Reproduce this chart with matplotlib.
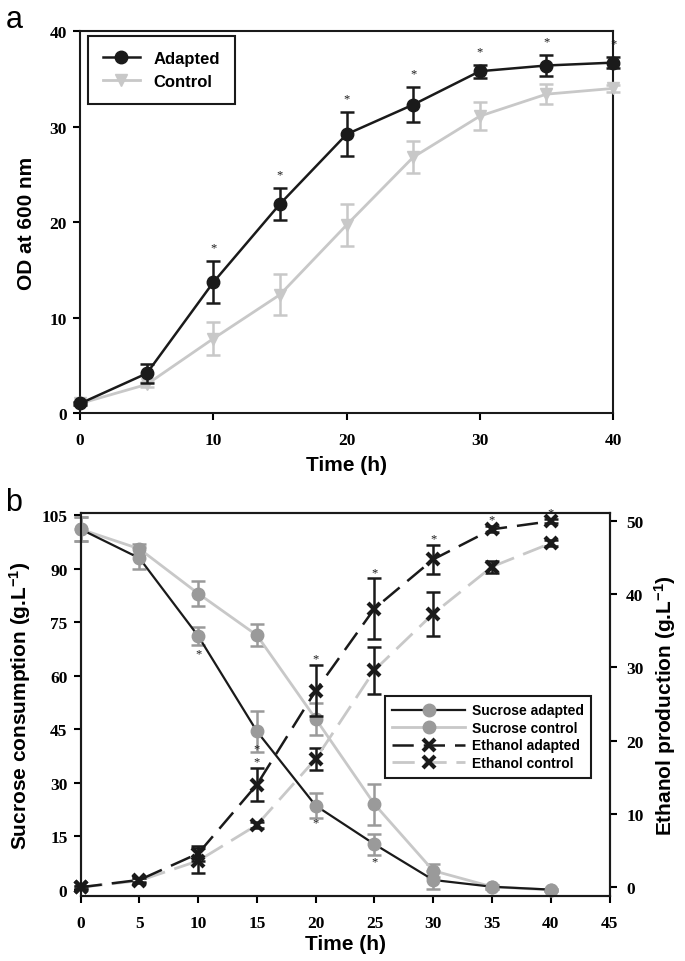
import numpy as np
import matplotlib
matplotlib.use("Agg")
import matplotlib.pyplot as plt

plt.rcParams["mathtext.fontset"] = "custom"
plt.rcParams["mathtext.rm"] = "Liberation Sans:bold"
plt.rcParams["mathtext.default"] = "rm"

# ---- panel a: growth (OD 600 nm) ----
time_a = [0, 5, 10, 15, 20, 25, 30, 35, 40]
od_adapted = [1.0, 4.15, 13.7, 21.9, 29.2, 32.3, 35.8, 36.4, 36.7]
od_adapted_err = [0.2, 1.0, 2.2, 1.7, 2.3, 1.85, 0.7, 1.1, 0.6]
od_control = [1.0, 3.0, 7.8, 12.4, 19.7, 26.8, 31.1, 33.4, 34.0]
od_control_err = [0.2, 0.3, 1.75, 2.15, 2.2, 1.7, 1.5, 1.05, 0.4]
od_star_times = [10, 15, 20, 25, 30, 35, 40]

# ---- panel b: sucrose consumption / ethanol production ----
time_b = [0, 5, 10, 15, 20, 25, 30, 35, 40]
suc_adapted = [101.0, 92.9, 71.1, 44.4, 23.6, 12.8, 2.8, 0.9, 0.1]
suc_adapted_err = [3.4, 3.0, 2.5, 5.7, 3.5, 3.0, 2.6, 0.5, 0.3]
suc_control = [101.0, 95.5, 83.0, 71.3, 47.9, 24.0, 5.4, 0.9, 0.0]
suc_control_err = [3.4, 1.5, 3.4, 3.1, 4.5, 5.7, 1.8, 0.5, 0.3]
eth_adapted = [0.0, 1.0, 4.6, 14.0, 26.8, 38.0, 44.7, 48.8, 49.9]
eth_adapted_err = [0.2, 0.3, 1.0, 2.2, 3.5, 4.1, 2.0, 0.4, 0.3]
eth_control = [0.0, 0.9, 3.6, 8.5, 17.5, 29.6, 37.3, 43.7, 46.9]
eth_control_err = [0.2, 0.3, 1.7, 0.4, 1.5, 3.2, 3.0, 0.8, 0.4]
suc_star_times = [10, 15, 20, 25]
eth_star_times = [15, 20, 25, 30, 35, 40]

BLACK = "#1a1a1a"
LIGHT = "#c8c8c8"
MID = "#9a9a9a"
tick_font = {"family": "Liberation Serif", "weight": "bold", "size": 12.5}
label_font = {"family": "Liberation Sans", "weight": "bold", "size": 15}

fig = plt.figure(figsize=(6.85, 9.62), dpi=100)


def style_ticks(ax):
    for lab in ax.get_xticklabels() + ax.get_yticklabels():
        lab.set_fontfamily(tick_font["family"])
        lab.set_fontweight(tick_font["weight"])
        lab.set_fontsize(tick_font["size"])
    for sp in ax.spines.values():
        sp.set_linewidth(1.5)
        sp.set_color(BLACK)


# panel a
ax = fig.add_axes([0.117, 0.5696, 0.778, 0.397])
ax.errorbar(time_a, od_control, yerr=od_control_err, fmt="none", ecolor=LIGHT,
            elinewidth=1.8, capsize=5, capthick=1.8, zorder=2, clip_on=False)
ax.plot(time_a, od_control, color=LIGHT, lw=2, marker="v", ms=9,
        label="Control", zorder=3, clip_on=False)
ax.errorbar(time_a, od_adapted, yerr=od_adapted_err, fmt="none", ecolor=BLACK,
            elinewidth=1.8, capsize=5, capthick=1.8, zorder=4, clip_on=False)
ax.plot(time_a, od_adapted, color=BLACK, lw=1.8, marker="o", ms=9,
        label="Adapted", zorder=5, clip_on=False)
for t in od_star_times:
    i = time_a.index(t)
    ax.text(t, od_adapted[i] + od_adapted_err[i] + 0.8, "*", ha="center",
            va="bottom", fontsize=9, family="Liberation Serif", color=BLACK)
ax.set_xlim(0, 40)
ax.set_ylim(0, 40)
ax.set_xticks(range(0, 41, 10))
ax.set_yticks(range(0, 41, 10))
ax.tick_params(direction="out", length=5, width=1.5, top=False, right=False)
ax.tick_params(axis="x", pad=9)
ax.tick_params(axis="y", pad=4.5)
style_ticks(ax)
ax.set_xlabel("Time (h)", fontdict=label_font, labelpad=5)
ax.set_ylabel("OD at 600 nm", fontdict=label_font, labelpad=10)
h, l = ax.get_legend_handles_labels()
leg = ax.legend(h[::-1], l[::-1], loc="upper left", bbox_to_anchor=(0.015, 0.987),
                borderaxespad=0, fancybox=False, framealpha=1, handlelength=2.2,
                prop={"family": "Liberation Sans", "weight": "bold", "size": 12},
                borderpad=0.9, labelspacing=0.45)
leg.get_frame().set_edgecolor(BLACK)
leg.get_frame().set_linewidth(1.5)
fig.text(0.008, 0.995, "a", fontsize=22, family="Liberation Sans", va="top")

# panel b
ax1 = fig.add_axes([0.1178, 0.0679, 0.772, 0.398])
ax2 = ax1.twinx()
ax1.errorbar(time_b, suc_control, yerr=suc_control_err, fmt="none", ecolor=MID,
             elinewidth=1.8, capsize=5, capthick=1.8, zorder=2, clip_on=False)
ax1.plot(time_b, suc_control, color=LIGHT, lw=2, marker="o", ms=9, mfc=MID,
         mec=MID, label="Sucrose control", zorder=3, clip_on=False)
ax1.errorbar(time_b, suc_adapted, yerr=suc_adapted_err, fmt="none", ecolor=MID,
             elinewidth=1.8, capsize=5, capthick=1.8, zorder=2, clip_on=False)
ax1.plot(time_b, suc_adapted, color=BLACK, lw=1.6, marker="o", ms=9, mfc=MID,
         mec=MID, label="Sucrose adapted", zorder=3, clip_on=False)
for t in suc_star_times:
    i = time_b.index(t)
    ax1.text(t, suc_adapted[i] - 4.8, "*", ha="center", va="center",
             fontsize=9, family="Liberation Serif", color=BLACK)

ax2.errorbar(time_b, eth_control, yerr=eth_control_err, fmt="none", ecolor=BLACK,
             elinewidth=1.8, capsize=5, capthick=1.8, zorder=2, clip_on=False)
ax2.plot(time_b, eth_control, color=LIGHT, lw=2, ls=(0, (8, 3.5)), marker="x",
         ms=8, mew=3, mec=BLACK, label="Ethanol control", zorder=3, clip_on=False)
ax2.errorbar(time_b, eth_adapted, yerr=eth_adapted_err, fmt="none", ecolor=BLACK,
             elinewidth=1.8, capsize=5, capthick=1.8, zorder=4, clip_on=False)
ax2.plot(time_b, eth_adapted, color=BLACK, lw=1.8, ls=(0, (8.5, 4)), marker="x",
         ms=8, mew=3, mec=BLACK, label="Ethanol adapted", zorder=5, clip_on=False)
for t in eth_star_times:
    i = time_b.index(t)
    ax2.text(t, eth_adapted[i] + eth_adapted_err[i] + 0.9, "*", ha="center",
             va="center", fontsize=9, family="Liberation Serif", color=BLACK)

ax1.set_xlim(0, 45)
ax1.set_ylim(-1.6, 105.6)
ax2.set_ylim(-1.15, 51.05)
ax1.set_xticks(range(0, 46, 5))
ax1.set_yticks(range(0, 106, 15))
ax2.set_yticks(range(0, 51, 10))
ax1.tick_params(direction="out", length=5, width=1.5, top=False)
ax1.tick_params(axis="x", pad=9)
ax1.tick_params(axis="y", pad=4.5)
ax2.tick_params(direction="out", length=5, width=1.5, pad=7)
style_ticks(ax1)
style_ticks(ax2)
ax1.set_xlabel("Time (h)", fontdict=label_font, labelpad=2)
ax1.set_ylabel("Sucrose consumption (g.L$^{-1}$)", fontdict=label_font, labelpad=6)
ax2.set_ylabel("Ethanol production (g.L$^{-1}$)", fontdict=label_font,
               labelpad=6, rotation=90)

h1, l1 = ax1.get_legend_handles_labels()
h2, l2 = ax2.get_legend_handles_labels()
handles = [h1[1], h1[0], h2[1], h2[0]]
labels = [l1[1], l1[0], l2[1], l2[0]]
leg2 = ax2.legend(handles, labels, loc="upper left", bbox_to_anchor=(0.575, 0.522),
                  borderaxespad=0, fancybox=False, framealpha=1, handlelength=5.2,
                  prop={"family": "Liberation Sans", "weight": "bold", "size": 10},
                  borderpad=0.55, labelspacing=0.25, handletextpad=0.5)
leg2.get_frame().set_edgecolor(BLACK)
leg2.get_frame().set_linewidth(1.5)
fig.text(0.008, 0.493, "b", fontsize=22, family="Liberation Sans", va="top")

fig.savefig("out.png", dpi=100)
